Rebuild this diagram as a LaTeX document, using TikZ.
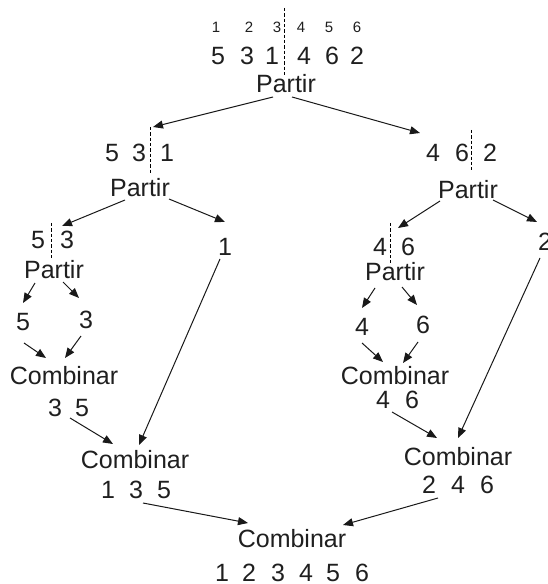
\documentclass[tikz,border=0pt]{standalone}
\usepackage{fontspec}
\setmainfont{Liberation Sans}
\usetikzlibrary{arrows.meta}
\begin{document}
\begin{tikzpicture}[x=0.75pt,y=-0.75pt,
  lbl/.style={inner sep=0pt, font=\fontsize{18.75}{20}\selectfont, text=black!88},
  idx/.style={inner sep=0pt, font=\fontsize{11.25}{12}\selectfont, text=black!88},
  arr/.style={-{Triangle[length=7.5pt,width=6pt]}, line width=0.75pt, draw=black!90},
  cut/.style={dash pattern=on 2.5pt off 1.5pt, line width=0.6pt}]
\useasboundingbox (0,0) rectangle (547,584);

% ---- top row ----
\foreach \n/\x/\t in {1/216/1,2/249/2,3/277/3,4/301/4,5/329/5,6/357/6}
  \node[idx] (i\n) at (\x,27) {\t};
\foreach \n/\x/\t in {1/218/5,2/247/3,3/272/1,4/304/4,5/332/6,6/357/2}
  \node[lbl] (r0\n) at (\x,56) {\t};
\coordinate (c0t) at (284,8); \coordinate (c0b) at (284,75);
\draw[cut] (c0t) -- (c0b);
\node[lbl] (P0) at (286,84) {Partir};

% ---- level 2 ----
\foreach \n/\x/\t in {1/112/5,2/139/3,3/167/1}
  \node[lbl] (r1\n) at (\x,153) {\t};
\coordinate (c1t) at (150,127); \coordinate (c1b) at (150,175);
\draw[cut] (c1t) -- (c1b);
\node[lbl] (P1) at (140,188) {Partir};

\foreach \n/\x/\t in {1/433/4,2/462/6,3/490/2}
  \node[lbl] (r2\n) at (\x,153) {\t};
\coordinate (c2t) at (471,130); \coordinate (c2b) at (471,170);
\draw[cut] (c2t) -- (c2b);
\node[lbl] (P2) at (468,190) {Partir};

\coordinate (a0ls) at (273,97);  \coordinate (a0le) at (153,127);
\coordinate (a0rs) at (292,97);  \coordinate (a0re) at (420,133);
\draw[arr] (a0ls) -- (a0le);
\draw[arr] (a0rs) -- (a0re);

% ---- level 3 left ----
\node[lbl] (r31) at (38,240) {5};
\node[lbl] (r32) at (67,240) {3};
\coordinate (c3t) at (51,223); \coordinate (c3b) at (51,258);
\draw[cut] (c3t) -- (c3b);
\node[lbl] (P3) at (54,270) {Partir};
\node[lbl] (one) at (225,247) {1};

\coordinate (a1ls) at (125,200); \coordinate (a1le) at (62,226);
\coordinate (a1rs) at (169,199); \coordinate (a1re) at (225,222);
\draw[arr] (a1ls) -- (a1le);
\draw[arr] (a1rs) -- (a1re);

\node[lbl] (f5) at (23,322) {5};
\node[lbl] (f3) at (86,320) {3};
\coordinate (a3ls) at (35,283); \coordinate (a3le) at (23,303);
\coordinate (a3rs) at (63,282); \coordinate (a3re) at (79,298);
\draw[arr] (a3ls) -- (a3le);
\draw[arr] (a3rs) -- (a3re);

\node[lbl] (C3) at (64,376) {Combinar};
\coordinate (b3ls) at (24,343); \coordinate (b3le) at (46,358);
\coordinate (b3rs) at (81,336); \coordinate (b3re) at (65,358);
\draw[arr] (b3ls) -- (b3le);
\draw[arr] (b3rs) -- (b3re);
\node[lbl] (s31) at (55,408) {3};
\node[lbl] (s32) at (82,408) {5};

% ---- level 3 right ----
\node[lbl] (r41) at (380,247) {4};
\node[lbl] (r42) at (408,247) {6};
\coordinate (c4t) at (390,223); \coordinate (c4b) at (390,263);
\draw[cut] (c4t) -- (c4b);
\node[lbl] (P4) at (395,272) {Partir};
\node[lbl] (two) at (545,242) {2};

\coordinate (a2ls) at (440,201); \coordinate (a2le) at (398,228);
\coordinate (a2rs) at (493,200); \coordinate (a2re) at (537,222);
\draw[arr] (a2ls) -- (a2le);
\draw[arr] (a2rs) -- (a2re);

\node[lbl] (f4) at (362,327) {4};
\node[lbl] (f6) at (423,325) {6};
\coordinate (a4ls) at (375,288); \coordinate (a4le) at (362,308);
\coordinate (a4rs) at (402,287); \coordinate (a4re) at (417,305);
\draw[arr] (a4ls) -- (a4le);
\draw[arr] (a4rs) -- (a4re);

\node[lbl] (C4) at (395,376) {Combinar};
\coordinate (b4ls) at (362,343); \coordinate (b4le) at (383,362);
\coordinate (b4rs) at (418,342); \coordinate (b4re) at (403,363);
\draw[arr] (b4ls) -- (b4le);
\draw[arr] (b4rs) -- (b4re);
\node[lbl] (s41) at (383,400) {4};
\node[lbl] (s42) at (412,400) {6};

% ---- level 4 ----
\node[lbl] (C5) at (135,460) {Combinar};
\foreach \n/\x/\t in {1/108/1,2/136/3,3/164/5}
  \node[lbl] (s5\n) at (\x,490) {\t};
\coordinate (b5ls) at (70,418);  \coordinate (b5le) at (113,444);
\coordinate (b5rs) at (220,259); \coordinate (b5re) at (139,445);
\draw[arr] (b5ls) -- (b5le);
\draw[arr] (b5rs) -- (b5re);

\node[lbl] (C6) at (458,457) {Combinar};
\foreach \n/\x/\t in {1/429/2,2/458/4,3/487/6}
  \node[lbl] (s6\n) at (\x,485) {\t};
\coordinate (b6ls) at (392,412); \coordinate (b6le) at (437,438);
\coordinate (b6rs) at (540,258); \coordinate (b6re) at (458,438);
\draw[arr] (b6ls) -- (b6le);
\draw[arr] (b6rs) -- (b6re);

% ---- bottom ----
\node[lbl] (C7) at (292,539) {Combinar};
\foreach \n/\x/\t in {1/222/1,2/249/2,3/278/3,4/306/4,5/333/5,6/362/6}
  \node[lbl] (s7\n) at (\x,573) {\t};
\coordinate (b7ls) at (143,503); \coordinate (b7le) at (248,523);
\coordinate (b7rs) at (438,498); \coordinate (b7re) at (343,525);
\draw[arr] (b7ls) -- (b7le);
\draw[arr] (b7rs) -- (b7re);
\end{tikzpicture}
\end{document}
